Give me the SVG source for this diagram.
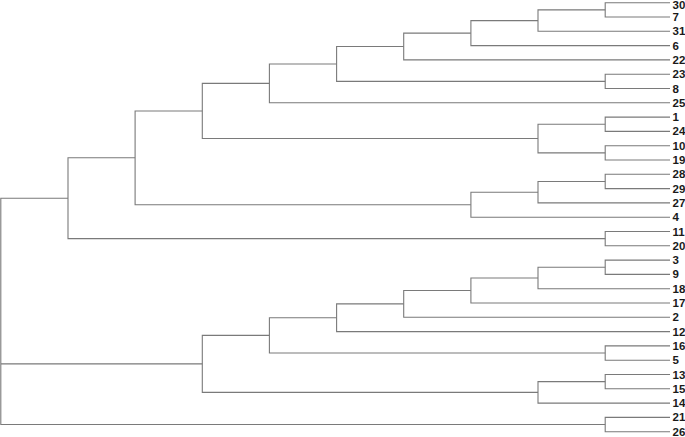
<svg xmlns="http://www.w3.org/2000/svg" width="685" height="437" viewBox="0 0 685 437">
<style>
.e{fill:none;stroke:#7a7a7a;stroke-width:1.1}
.l{font-family:"Liberation Sans",Arial,sans-serif;font-weight:bold;font-size:11.5px;fill:#1a1a1a}
</style>
<rect width="685" height="437" fill="#fff"/>
<g id="connectors">
<path class="e" d="M670 2.7H605.2V17H670"/>
<path class="e" d="M605.2 9.85H538V31.3H670"/>
<path class="e" d="M538 20.58H470.9V45.6H670"/>
<path class="e" d="M470.9 33.09H403.7V59.9H670"/>
<path class="e" d="M670 74.2H605.2V88.5H670"/>
<path class="e" d="M403.7 46.5H336.6V81.35H605.2"/>
<path class="e" d="M336.6 63.93H269.4V102.8H670"/>
<path class="e" d="M670 117.1H605.2V131.4H670"/>
<path class="e" d="M670 145.7H605.2V160H670"/>
<path class="e" d="M605.2 124.25H538V152.85H605.2"/>
<path class="e" d="M269.4 83.36H202.3V138.55H538"/>
<path class="e" d="M670 174.3H605.2V188.6H670"/>
<path class="e" d="M605.2 181.45H538V202.9H670"/>
<path class="e" d="M538 192.18H470.9V217.2H670"/>
<path class="e" d="M202.3 110.96H135.1V204.69H470.9"/>
<path class="e" d="M670 231.5H605.2V245.8H670"/>
<path class="e" d="M135.1 157.82H68V238.65H605.2"/>
<path class="e" d="M670 260.1H605.2V274.4H670"/>
<path class="e" d="M605.2 267.25H538V288.7H670"/>
<path class="e" d="M538 277.98H470.9V303H670"/>
<path class="e" d="M470.9 290.49H403.7V317.3H670"/>
<path class="e" d="M403.7 303.9H336.6V331.6H670"/>
<path class="e" d="M670 345.9H605.2V360.2H670"/>
<path class="e" d="M336.6 317.75H269.4V353.05H605.2"/>
<path class="e" d="M670 374.5H605.2V388.8H670"/>
<path class="e" d="M605.2 381.65H538V403.1H670"/>
<path class="e" d="M269.4 335.4H202.3V392.38H538"/>
<path class="e" d="M670 417.4H605.2V431.7H670"/>
<path class="e" d="M68 198.24H0.8V424.55H605.2M0.8 363.89H202.3"/>
</g>
<g id="leaves">
<g id="n30"><text class="l" x="672.5" y="8.8">30</text></g>
<g id="n7"><text class="l" x="672.5" y="21">7</text></g>
<g id="n31"><text class="l" x="672.5" y="35.3">31</text></g>
<g id="n6"><text class="l" x="672.5" y="49.6">6</text></g>
<g id="n22"><text class="l" x="672.5" y="63.9">22</text></g>
<g id="n23"><text class="l" x="672.5" y="78.2">23</text></g>
<g id="n8"><text class="l" x="672.5" y="92.5">8</text></g>
<g id="n25"><text class="l" x="672.5" y="106.8">25</text></g>
<g id="n1"><text class="l" x="672.5" y="121.1">1</text></g>
<g id="n24"><text class="l" x="672.5" y="135.4">24</text></g>
<g id="n10"><text class="l" x="672.5" y="149.7">10</text></g>
<g id="n19"><text class="l" x="672.5" y="164">19</text></g>
<g id="n28"><text class="l" x="672.5" y="178.3">28</text></g>
<g id="n29"><text class="l" x="672.5" y="192.6">29</text></g>
<g id="n27"><text class="l" x="672.5" y="206.9">27</text></g>
<g id="n4"><text class="l" x="672.5" y="221.2">4</text></g>
<g id="n11"><text class="l" x="672.5" y="235.5">11</text></g>
<g id="n20"><text class="l" x="672.5" y="249.8">20</text></g>
<g id="n3"><text class="l" x="672.5" y="264.1">3</text></g>
<g id="n9"><text class="l" x="672.5" y="278.4">9</text></g>
<g id="n18"><text class="l" x="672.5" y="292.7">18</text></g>
<g id="n17"><text class="l" x="672.5" y="307">17</text></g>
<g id="n2"><text class="l" x="672.5" y="321.3">2</text></g>
<g id="n12"><text class="l" x="672.5" y="335.6">12</text></g>
<g id="n16"><text class="l" x="672.5" y="349.9">16</text></g>
<g id="n5"><text class="l" x="672.5" y="364.2">5</text></g>
<g id="n13"><text class="l" x="672.5" y="378.5">13</text></g>
<g id="n15"><text class="l" x="672.5" y="392.8">15</text></g>
<g id="n14"><text class="l" x="672.5" y="407.1">14</text></g>
<g id="n21"><text class="l" x="672.5" y="421.4">21</text></g>
<g id="n26"><text class="l" x="672.5" y="435.7">26</text></g>
</g>
</svg>
